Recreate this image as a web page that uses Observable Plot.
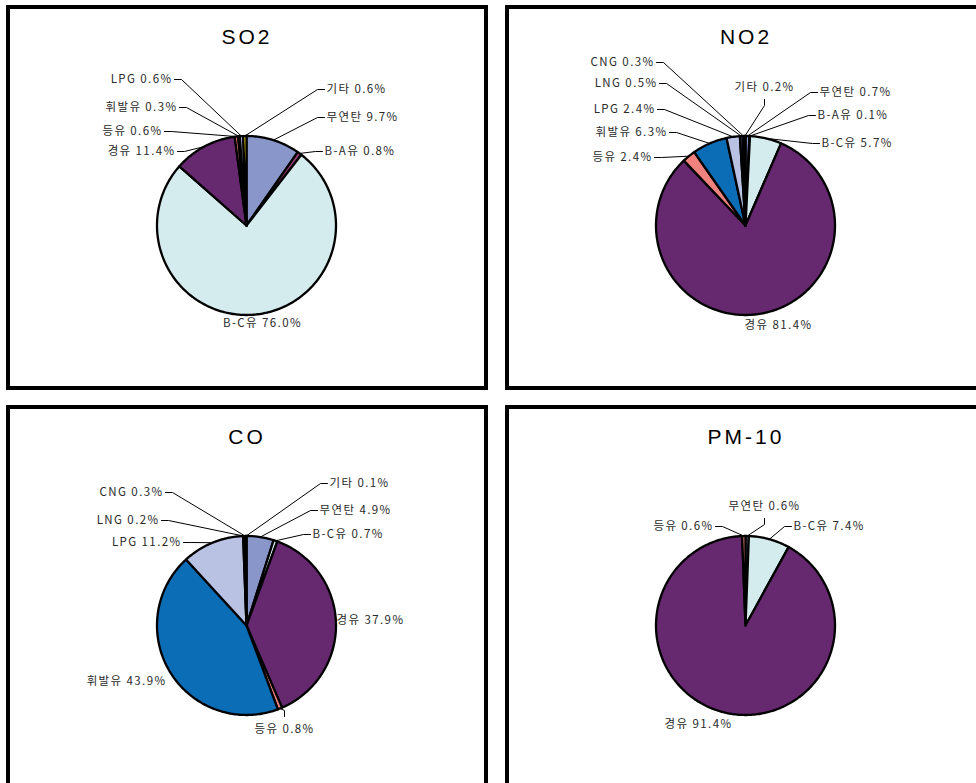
<!DOCTYPE html>
<html>
<head>
<meta charset="utf-8">
<script src="https://cdn.jsdelivr.net/npm/d3@7"></script>
<script src="https://cdn.jsdelivr.net/npm/@observablehq/plot@0.6"></script>
<style>
  body { margin: 0; width: 976px; height: 783px; overflow: hidden; background: #fff; position: relative; }
  .panel { position: absolute; width: 482px; height: 385px; border: 4px solid #000; box-sizing: border-box; overflow: hidden; background: #fff; }
  .panel svg { position: absolute; left: 0; top: 0; }
  .title { position: absolute; left: 0; top: 16px; width: 474px; text-align: center; font: 21px "Liberation Sans", Arial, sans-serif; letter-spacing: 3px; line-height: 24px; color: #000; }
</style>
</head>
<body>
<script>
// Fuel categories in slice order (clockwise from 12 o'clock)
const categories = ["무연탄", "B-A유", "B-C유", "경유", "등유", "휘발유", "LPG", "LNG", "CNG", "기타"];
const sliceColors = ["#8896CA", "#9A3A78", "#D5ECEE", "#66296F", "#F0837E", "#0B6DB6", "#BAC2E4", "#7A7FC0", "#E0A060", "#F2D000"];

// Emission share by fuel (%), one array per pollutant
const so2Share  = [9.7, 0.8, 76.0, 11.4, 0.6, 0.3, 0.6, 0, 0, 0.6];
const no2Share  = [0.7, 0.1, 5.7, 81.4, 2.4, 6.3, 2.4, 0.5, 0.3, 0.2];
const coShare   = [4.9, 0, 0.7, 37.9, 0.8, 43.9, 11.2, 0.2, 0.3, 0.1];
const pm10Share = [0.6, 0, 7.4, 91.4, 0.6, 0, 0, 0, 0, 0];

const pollutants = ["SO2", "NO2", "CO", "PM-10"];
const shares = [so2Share, no2Share, coShare, pm10Share];

// Panel placement on the page
const panelBoxes = [[6, 5], [505, 5], [6, 405], [505, 405]];

// Label placement: offset in px from the pie centre, text anchor, leader style
const labelLayout = {
  "SO2": {
    "LPG":   [-74, -146, "end", "side"],
    "휘발유": [-69, -118, "end", "side"],
    "등유":   [-84, -94, "end", "side"],
    "경유":   [-71, -74, "end", "side"],
    "기타":   [80, -136, "start", "side"],
    "무연탄": [80, -108, "start", "side"],
    "B-A유":  [78, -74, "start", "side"],
    "B-C유":  [16, 98, "middle", "none"]
  },
  "NO2": {
    "CNG":   [-91, -163, "end", "side"],
    "LNG":   [-88, -142, "end", "side"],
    "기타":   [19, -138, "middle", "down"],
    "무연탄": [74, -133, "start", "side"],
    "LPG":   [-90, -116, "end", "side"],
    "B-A유":  [72, -110, "start", "side"],
    "휘발유": [-78, -93, "end", "side"],
    "B-C유":  [76, -82, "start", "side"],
    "등유":   [-93, -68, "end", "side"],
    "경유":   [33, 100, "middle", "none"]
  },
  "CO": {
    "CNG":   [-83, -133, "end", "side"],
    "기타":   [83, -142, "start", "side"],
    "LNG":   [-87, -105, "end", "side"],
    "무연탄": [73, -115, "start", "side"],
    "LPG":   [-65, -83, "end", "side"],
    "B-C유":  [66, -91, "start", "side"],
    "경유":   [90, -5, "start", "none"],
    "휘발유": [-80, 56, "end", "none"],
    "등유":   [38, 104, "middle", "up"]
  },
  "PM-10": {
    "무연탄": [19, -119, "middle", "down"],
    "등유":   [-32, -99, "end", "side"],
    "B-C유":  [48, -99, "start", "side"],
    "경유":   [-47, 99, "middle", "none"]
  }
};

const W = 474, H = 377;      // inner panel size
const CX = 236, CY = 216;    // pie centre inside a panel
const R = 89.5;              // pie radius in px
const fmt = d3.format(".1f");
const pie = d3.pie().sort(null).value(d => d.value).startAngle(0).endAngle(2 * Math.PI);

function drawPanel(name, values, box) {
  const rows = categories.map((cat, i) => ({cat, value: values[i]})).filter(d => d.value > 0);
  const arcs = pie(rows);

  // slice outlines in unit-circle coordinates (y up)
  const slicePts = [];
  for (const a of arcs) {
    const cat = a.data.cat;
    const n = Math.max(1, Math.ceil((a.endAngle - a.startAngle) / (Math.PI / 180)));
    slicePts.push({cat, x: 0, y: 0});
    for (let i = 0; i <= n; i++) {
      const t = a.startAngle + (a.endAngle - a.startAngle) * i / n;
      slicePts.push({cat, x: Math.sin(t), y: Math.cos(t)});
    }
    slicePts.push({cat, x: 0, y: 0});
  }

  // labels and leader lines
  const layout = labelLayout[name];
  const labels = [];
  const leaders = [];
  for (const a of arcs) {
    const cat = a.data.cat;
    const L = layout[cat];
    if (!L) continue;
    const [dx, dy, anchor, leader] = L;
    const lx = dx / R, ly = -dy / R;
    labels.push({cat, x: lx, y: ly, anchor, text: `${cat} ${fmt(a.data.value)}%`});
    const mid = (a.startAngle + a.endAngle) / 2;
    const tip = {x: Math.sin(mid), y: Math.cos(mid)};
    let p0, p1;
    if (leader === "side") {
      const s = anchor === "end" ? 1 : -1;
      p0 = {x: (dx + s * 2) / R, y: ly};
      p1 = {x: (dx + s * 9) / R, y: ly};
    } else if (leader === "down") {
      p0 = {x: lx, y: -(dy + 12) / R};
      p1 = {x: lx, y: -(dy + 18) / R};
    } else if (leader === "up") {
      p0 = {x: lx, y: -(dy - 13) / R};
      p1 = {x: lx, y: -(dy - 19) / R};
    } else continue;
    leaders.push({cat, ...p0}, {cat, ...p1}, {cat, ...tip});
  }

  const textOpts = {x: "x", y: "y", text: "text", fontSize: 11.5, fill: "#2a2a2a"};
  const chart = Plot.plot({
    width: W,
    height: H,
    margin: 0,
    x: {domain: [-CX / R, (W - CX) / R], range: [0, W], axis: null},
    y: {domain: [-(H - CY) / R, CY / R], range: [H, 0], axis: null},
    color: {type: "ordinal", domain: categories, range: sliceColors},
    style: {fontFamily: "'Noto Sans CJK KR', sans-serif", letterSpacing: "1.4px", background: "transparent"},
    marks: [
      Plot.line(slicePts, {x: "x", y: "y", z: "cat", fill: "cat", stroke: "#000", strokeWidth: 2.3, strokeLinejoin: "round"}),
      Plot.line(leaders, {x: "x", y: "y", z: "cat", stroke: "#000", strokeWidth: 1}),
      Plot.text(labels.filter(d => d.anchor === "end"), {...textOpts, textAnchor: "end"}),
      Plot.text(labels.filter(d => d.anchor === "start"), {...textOpts, textAnchor: "start"}),
      Plot.text(labels.filter(d => d.anchor === "middle"), {...textOpts, textAnchor: "middle"})
    ]
  });

  const panel = document.createElement("div");
  panel.className = "panel";
  panel.style.left = box[0] + "px";
  panel.style.top = box[1] + "px";
  panel.appendChild(chart);
  const title = document.createElement("div");
  title.className = "title";
  title.textContent = name;
  panel.appendChild(title);
  document.body.appendChild(panel);
}

pollutants.forEach((name, i) => drawPanel(name, shares[i], panelBoxes[i]));
</script>
</body>
</html>
